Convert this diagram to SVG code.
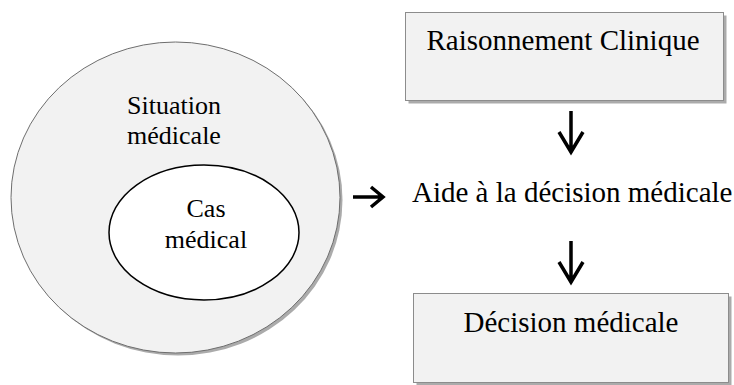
<svg xmlns="http://www.w3.org/2000/svg" width="734" height="385" viewBox="0 0 734 385">
<style>
.t{font-family:"Liberation Serif","Times New Roman",serif;fill:#000;}
.l{font-size:26px;}
.r{font-size:29px;}
.box{fill:#f2f2f2;stroke:#8c8c8c;stroke-width:1;}
.sh{fill:#ababab;}
.arr{fill:none;stroke:#000;stroke-width:3.5;}
</style>
<rect width="734" height="385" fill="#fff"/>
<g id="situation">
<ellipse class="sh" cx="178" cy="200" rx="164.5" ry="155.5"/>
<ellipse cx="175.5" cy="197.5" rx="164.5" ry="155.5" fill="#f2f2f2" stroke="#6e6e6e" stroke-width="1"/>
<text class="t l" x="174" y="114" text-anchor="middle">Situation</text>
<text class="t l" x="174" y="144" text-anchor="middle">médicale</text>
</g>
<g id="cas">
<ellipse cx="204" cy="232.5" rx="95" ry="67.5" fill="#fff" stroke="#000" stroke-width="1.5"/>
<text class="t l" x="206" y="217" text-anchor="middle">Cas</text>
<text class="t l" x="206" y="248" text-anchor="middle">médical</text>
</g>
<g id="raisonnement">
<rect class="sh" x="408.5" y="15.5" width="318" height="88"/>
<rect class="box" x="405.5" y="12.5" width="318" height="88"/>
<text class="t r" x="563" y="50" text-anchor="middle">Raisonnement Clinique</text>
</g>
<g id="aide">
<text class="t r" x="412" y="202">Aide à la décision médicale</text>
</g>
<g id="decision">
<rect class="sh" x="416.5" y="296.5" width="315" height="89"/>
<rect class="box" x="413.5" y="293.5" width="315" height="89"/>
<text class="t r" x="571" y="332" text-anchor="middle">Décision médicale</text>
</g>
<g id="connectors">
<path class="arr" d="M571 111V151M559 132L571 152L583 132"/>
<path class="arr" d="M571 241V281M559 262L571 282L583 262"/>
<path class="arr" d="M353 197H382M371 187L383 197L371 207"/>
</g>
</svg>
